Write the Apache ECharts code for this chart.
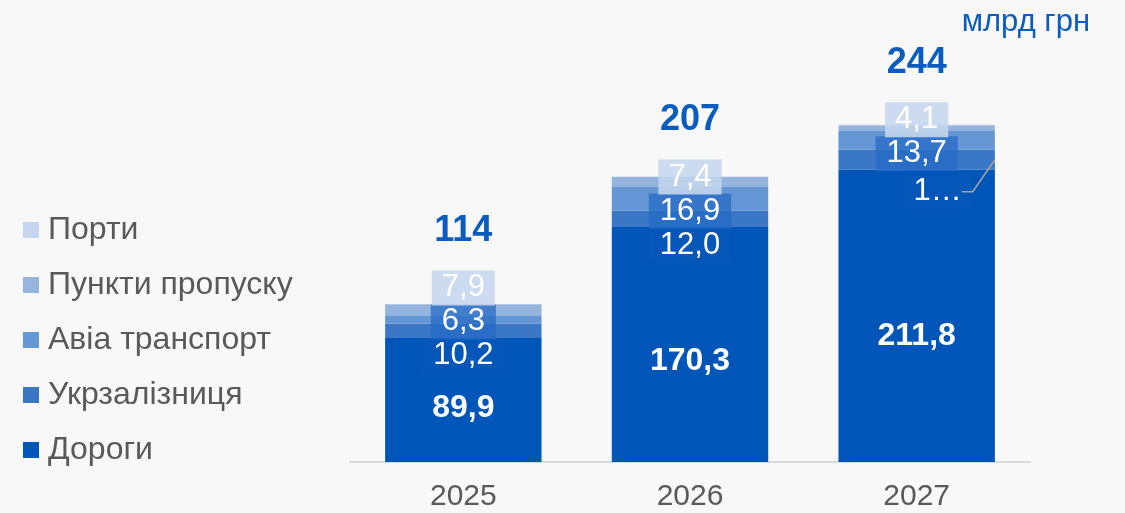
<!DOCTYPE html>
<html>
<head>
<meta charset="utf-8">
<script src="https://cdn.jsdelivr.net/npm/echarts@6/dist/echarts.min.js"></script>
<style>
html,body{margin:0;padding:0;background:#f8f8f8;}
#c{width:1125px;height:513px;}
</style>
</head>
<body>
<div id="c"></div>
<script>
const categories = ['2025', '2026', '2027'];
const seriesNames = ['Дороги', 'Укрзалізниця', 'Авіа транспорт', 'Пункти пропуску', 'Порти'];
const dorogi = [89.9, 170.3, 211.8];
const ukrzaliznytsia = [10.2, 12.0, 14.4];
const avia = [6.3, 16.9, 13.7];
const punkty = [7.9, 7.4, 4.1];
const porty = [0.2, 0.3, 0.4];
const totals = [114, 207, 244];
const unitLabel = 'млрд грн';

const colors = ['#0056b8', '#3a77c7', '#6597d4', '#95b5df', '#c5d6ee'];
const FONT = '"Liberation Sans", Arial, sans-serif';

const chart = echarts.init(document.getElementById('c'));
const fmt = v => v.toFixed(1).replace('.', ',');

function roadsTop(i) {
  return chart.convertToPixel({ gridIndex: 0 }, [i, dorogi[i]])[1];
}
function roadsBase(i) {
  return chart.convertToPixel({ gridIndex: 0 }, [i, 0])[1];
}
function centerX(p) {
  return p.rect.x + p.rect.width / 2;
}

const labelBase = { color: '#ffffff', fontFamily: FONT, fontSize: 31 };

const option = {
  backgroundColor: '#f8f8f8',
  animation: false,
  title: {
    text: unitLabel,
    right: 30,
    top: 2,
    textStyle: { color: '#0a5cbf', fontFamily: FONT, fontSize: 31, fontWeight: 'normal' }
  },
  legend: {
    orient: 'vertical',
    left: 18,
    top: 209,
    icon: 'rect',
    itemWidth: 16,
    itemHeight: 16,
    itemGap: 23,
    data: seriesNames.slice().reverse(),
    textStyle: { color: '#595959', fontFamily: FONT, fontSize: 32, padding: [0, 0, 0, 4] }
  },
  grid: { left: 350, right: 95, top: 48, bottom: 51 },
  xAxis: {
    type: 'category',
    data: categories,
    axisTick: { show: false },
    axisLine: { lineStyle: { color: '#d9d9d9', width: 2 } },
    axisLabel: { color: '#595959', fontFamily: FONT, fontSize: 30, margin: 20 }
  },
  yAxis: { type: 'value', min: 0, max: 300, show: false, splitLine: { show: false } },
  series: [
    {
      name: seriesNames[0], type: 'bar', stack: 's', barCategoryGap: '31%',
      data: dorogi, itemStyle: { color: colors[0] },
      label: Object.assign({}, labelBase, { show: true, position: 'inside', fontWeight: 'bold', fontSize: 32, formatter: p => fmt(p.value) }),
      labelLayout: p => {
        const b = roadsBase(p.dataIndex), t = roadsTop(p.dataIndex);
        return { x: centerX(p), y: b - 0.43 * (b - t), align: 'center', verticalAlign: 'middle' };
      }
    },
    {
      name: seriesNames[1], type: 'bar', stack: 's',
      data: ukrzaliznytsia, itemStyle: { color: colors[1] },
      label: Object.assign({}, labelBase, {
        show: true, position: 'inside',
        backgroundColor: '#0457b9', padding: [2, 11],
        formatter: p => p.dataIndex === 2 ? fmt(p.value).charAt(0) + '…' : fmt(p.value)
      }),
      labelLayout: p => ({
        x: centerX(p) + (p.dataIndex === 2 ? 21 : 0),
        y: roadsTop(p.dataIndex) + (p.dataIndex === 2 ? 22 : 18),
        align: 'center', verticalAlign: 'middle'
      })
    },
    {
      name: seriesNames[2], type: 'bar', stack: 's',
      data: avia, itemStyle: { color: colors[2] },
      label: Object.assign({}, labelBase, {
        show: true, position: 'inside',
        backgroundColor: 'rgba(36,106,198,0.72)', padding: [2, 11],
        formatter: p => fmt(p.value)
      }),
      labelLayout: p => ({
        x: centerX(p),
        y: roadsTop(p.dataIndex) + 18 - 34,
        align: 'center', verticalAlign: 'middle'
      })
    },
    {
      name: seriesNames[3], type: 'bar', stack: 's',
      data: punkty, itemStyle: { color: colors[3] },
      label: Object.assign({}, labelBase, {
        show: true, position: 'inside',
        backgroundColor: 'rgba(197,214,238,0.88)', padding: [2, 10],
        formatter: p => fmt(p.value)
      }),
      labelLayout: p => ({
        x: centerX(p),
        y: roadsTop(p.dataIndex) + 18 - 68,
        align: 'center', verticalAlign: 'middle'
      })
    },
    {
      name: seriesNames[4], type: 'bar', stack: 's',
      data: porty, itemStyle: { color: colors[4] },
      label: { show: false }
    },
    {
      name: 'total', type: 'bar', stack: 's',
      data: totals.map(() => 0),
      itemStyle: { color: 'rgba(0,0,0,0)' },
      label: {
        show: true, position: 'top', color: '#0a5cbf', fontFamily: FONT,
        fontSize: 36, fontWeight: 'bold',
        formatter: p => String(totals[p.dataIndex])
      },
      labelLayout: p => ({
        x: centerX(p),
        y: roadsTop(p.dataIndex) - 107,
        align: 'center', verticalAlign: 'middle'
      })
    }
  ]
};

chart.setOption(option);

// leader line for the truncated 2027 label
(function () {
  const lay = chart.getModel().getSeriesByIndex(1).getData().getItemLayout(2);
  const cx = lay.x + lay.width / 2;
  const right = lay.x + lay.width;
  const midY = lay.y + lay.height / 2;
  const ly = roadsTop(2) + 22;
  chart.setOption({
    graphic: [{
      type: 'polyline', z: 100,
      shape: { points: [[cx + 45, ly], [cx + 56, ly], [right, midY]] },
      style: { stroke: '#a6a6a6', lineWidth: 1.5, fill: null }
    }]
  });
})();
</script>
</body>
</html>
